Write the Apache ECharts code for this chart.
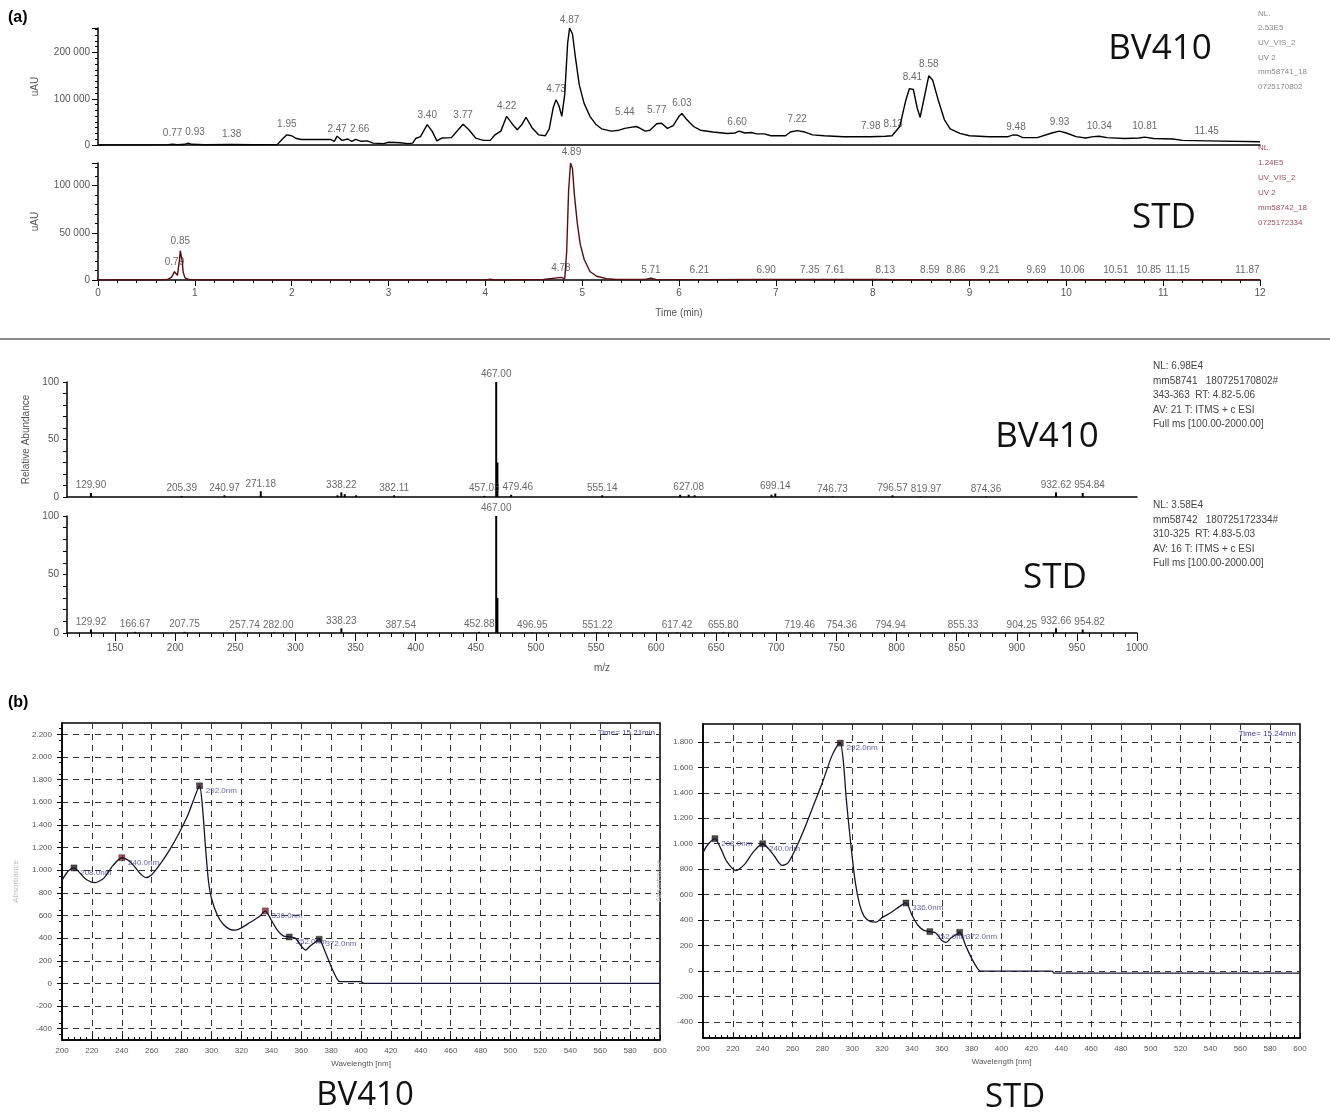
<!DOCTYPE html>
<html>
<head>
<meta charset="utf-8">
<title>BV410 / STD</title>
<script src="https://cdn.jsdelivr.net/npm/echarts@6/dist/echarts.min.js"></script>
<style>
html,body{margin:0;padding:0;background:#fff;}
#main{width:1330px;height:1116px;}
</style>
</head>
<body>
<div id="main"></div>
<script>
// (a) UV chromatograms : [time (min), uAU]
var bvChrom = [[0,0],[0.5,0],[0.72,500],[0.77,1500],[0.82,500],[0.9,1500],[0.93,4000],[0.97,1500],[1.1,500],[1.38,1000],[1.6,500],[1.85,800],
  [1.9,12000],[1.95,22000],[2.0,20000],[2.05,14000],[2.1,12000],[2.4,12000],[2.44,8000],[2.47,19000],[2.52,10000],[2.58,13000],[2.62,8000],[2.66,12000],
  [2.72,8000],[2.78,9000],[2.84,4000],[2.95,3000],[3.0,6000],[3.12,5000],[3.2,3000],[3.25,4000],[3.28,14000],[3.33,18000],[3.40,44000],[3.45,30000],
  [3.5,9000],[3.55,15000],[3.65,16000],[3.72,33000],[3.77,45000],[3.83,33000],[3.9,15000],[3.98,10000],[4.05,10000],[4.1,22000],[4.16,30000],[4.22,62000],
  [4.28,45000],[4.33,33000],[4.38,45000],[4.42,60000],[4.48,38000],[4.55,22000],[4.62,20000],[4.66,35000],[4.7,80000],[4.73,98000],[4.76,85000],[4.79,62000],
  [4.82,110000],[4.85,220000],[4.87,253000],[4.9,240000],[4.93,190000],[4.97,130000],[5.02,90000],[5.08,62000],[5.14,45000],[5.2,35000],[5.3,30000],
  [5.38,32000],[5.44,36000],[5.5,38000],[5.56,40000],[5.6,36000],[5.65,30000],[5.7,32000],[5.77,46000],[5.82,47000],[5.88,36000],[5.94,42000],[6.0,62000],
  [6.03,68000],[6.08,55000],[6.15,40000],[6.22,32000],[6.35,28000],[6.5,25000],[6.58,26000],[6.62,30000],[6.68,26000],[6.75,27000],[6.8,24000],[6.88,24000],
  [6.95,20000],[7.1,20000],[7.15,28000],[7.22,31000],[7.3,28000],[7.38,22000],[7.5,20000],[7.7,18000],[7.98,18000],[8.13,19000],[8.2,20000],[8.28,40000],
  [8.34,95000],[8.38,122000],[8.42,120000],[8.46,80000],[8.49,60000],[8.53,100000],[8.58,150000],[8.62,140000],[8.68,95000],[8.74,55000],[8.8,35000],
  [8.9,25000],[9.0,20000],[9.2,18000],[9.4,18000],[9.45,22000],[9.5,21000],[9.55,16000],[9.7,16000],[9.85,26000],[9.93,30000],[10.0,26000],[10.1,18000],
  [10.2,15000],[10.28,18000],[10.34,19000],[10.42,16000],[10.6,14000],[10.75,15000],[10.81,17000],[10.9,14000],[11.1,13000],[11.2,10000],[11.45,9000],[12,7000]];
var stdChrom = [[0,0],[0.65,0],[0.72,500],[0.76,3000],[0.79,8800],[0.81,7000],[0.82,5000],[0.84,20000],[0.85,31000],[0.87,20000],[0.88,8000],[0.9,2000],
  [0.93,800],[0.97,0],[1.55,0],[4.0,0],[4.05,800],[4.1,0],[4.6,500],[4.78,2800],[4.82,1500],[4.84,30000],[4.86,95000],[4.88,124000],[4.9,118000],
  [4.92,90000],[4.95,60000],[4.98,38000],[5.02,22000],[5.08,9000],[5.15,4000],[5.25,1500],[5.35,500],[5.65,500],[5.71,2000],[5.76,600],[6.21,400],
  [6.9,600],[7.35,500],[8.13,600],[8.2,300],[12,300]];
// peak labels : [time, label height]
var bvChromPeaks = [[0.77,8600],[0.93,11000],[1.38,6500],[1.95,28000],[2.47,17000],[2.66,17000],[3.40,47500],[3.77,47500],[4.22,67000],[4.73,104000],
  [4.87,253000],[5.44,54000],[5.77,58000],[6.03,73500],[6.60,32000],[7.22,39000],[7.98,24000],[8.13,28000],[8.41,130000],[8.58,158000],[9.48,21600],
  [9.93,32000],[10.34,24000],[10.81,24000],[11.45,13000]];
var stdChromPeaks = [[0.79,10600],[0.85,33000],[4.78,4300],[4.89,127000],[5.71,2100],[6.21,2100],[6.90,2100],[7.35,2100],[7.61,2100],[8.13,2100],
  [8.59,2100],[8.86,2100],[9.21,2100],[9.69,2100],[10.06,2100],[10.51,2100],[10.85,2100],[11.15,2100],[11.87,2100]];

// mass spectra : [m/z, relative abundance]
var bvMsSticks = [[129.90,3.5],[205.39,1],[240.97,1.5],[271.18,5],[335.0,1.5],[338.22,4],[341.0,2.5],[350.5,1.5],[382.11,1.5],[457.03,1],[467.00,100],
  [468.0,30],[479.46,2],[555.14,1.5],[620.0,2],[627.08,2],[632.0,1.5],[696.0,2],[699.14,3],[746.73,0.5],[796.57,1.5],[819.97,0.5],[874.36,0.5],
  [932.62,4],[954.84,3.5]];
var bvMsLabelled = [129.90,205.39,240.97,271.18,338.22,382.11,457.03,467.00,479.46,555.14,627.08,699.14,746.73,796.57,819.97,874.36,932.62,954.84];
var stdMsSticks = [[129.92,3],[166.67,1],[207.75,1],[257.74,0.5],[282.00,0.5],[338.23,4],[387.54,0.5],[452.88,1],[467.00,100],[468.0,30],[496.95,0.5],
  [551.22,0.5],[617.42,0.5],[655.80,0.5],[719.46,0.5],[754.36,0.5],[794.94,0.5],[855.33,0.5],[904.25,0.5],[932.66,4],[954.82,3]];
var stdMsLabelled = [129.92,166.67,207.75,257.74,282.00,338.23,387.54,452.88,467.00,496.95,551.22,617.42,655.80,719.46,754.36,794.94,855.33,904.25,932.66,954.82];
var mzTicks = [150,200,250,300,350,400,450,500,550,600,650,700,750,800,850,900,950,1000];

// (b) UV spectra : [wavelength nm, absorbance]
var uvBv = [[200,910],[204,990],[208,1020],[212,975],[216,920],[222,890],[228,930],[234,1040],[240,1110],[244,1090],[248,1040],[252,975],[256,935],
  [260,960],[266,1060],[272,1180],[278,1320],[284,1480],[288,1620],[292,1745],[294,1550],[296,1200],[298,900],[300,750],[304,600],[308,520],[312,480],
  [316,470],[320,490],[326,540],[332,590],[336,640],[340,560],[344,470],[348,420],[352,410],[356,400],[360,330],[363,295],[366,330],[370,370],[372,390],
  [376,280],[380,150],[384,40],[386,15],[400,15],[402,0],[600,0]];
var uvStd = [[200,930],[203,990],[208,1040],[212,960],[216,860],[222,790],[228,840],[234,940],[240,1000],[244,960],[248,900],[253,830],[257,850],
  [262,960],[268,1120],[274,1300],[280,1480],[286,1680],[290,1770],[292,1790],[294,1650],[296,1350],[299,1000],[302,700],[305,520],[308,430],[312,390],
  [316,385],[320,420],[326,460],[332,510],[336,535],[340,440],[344,360],[348,320],[352,310],[356,300],[360,240],[363,225],[366,260],[370,290],[372,305],
  [376,200],[380,100],[384,20],[386,0],[434,0],[435,-15],[600,-15]];
var uvBvMarks = [208,240,292,336,352,372];
var uvStdMarks = [208,240,292,336,352,372];
var uvBvTicks = [-400,-200,0,200,400,600,800,1000,1200,1400,1600,1800,2000,2200];
var uvStdTicks = [-400,-200,0,200,400,600,800,1000,1200,1400,1600,1800];

function spaced(v){ return String(v).replace(/\B(?=(\d{3})+(?!\d))/g, ' '); }
function dotted(v){ var s = String(Math.abs(v)).replace(/\B(?=(\d{3})+(?!\d))/g, '.'); return (v < 0 ? '-' : '') + s; }
function plain(v){ return String(v); }
function pick(arr, keys){ return arr.filter(function(d){ return keys.indexOf(d[0]) >= 0; }); }

var small = {fontFamily:'Liberation Sans', fontSize:10, color:'#555'};
var black = {color:'#000'};

function peakLabels(id, data, xi, yi){
  return {
    id:id, type:'scatter', xAxisIndex:xi, yAxisIndex:yi, data:data, symbolSize:1, clip:false, silent:true,
    itemStyle:{color:'rgba(0,0,0,0)'},
    label:{show:true, position:'top', distance:2, fontFamily:'Liberation Sans', fontSize:10, color:'#444',
      formatter:function(p){ return p.value[0].toFixed(2); }}
  };
}
function uvMarks(src, marks, xi, yi, red){
  return {
    type:'scatter', xAxisIndex:xi, yAxisIndex:yi, data:pick(src, marks), symbol:'rect', symbolSize:6,
    itemStyle:{color:function(p){ return red.indexOf(p.value[0]) >= 0 ? '#a02828' : '#2a1a1a'; }, borderColor:'#111', borderWidth:0.5},
    label:{show:true, position:'right', distance:3, offset:[0,5], fontFamily:'Liberation Sans', fontSize:8, color:'#3a3a96',
      formatter:function(p){ return p.value[0].toFixed(1) + 'nm'; }}
  };
}
function uvX(gi){
  return {gridIndex:gi, type:'value', min:200, max:600, interval:20, name:'Wavelength [nm]', nameLocation:'middle', nameGap:20,
    nameTextStyle:{fontFamily:'Liberation Sans', fontSize:8, color:'#555'},
    axisLine:{onZero:false, lineStyle:{color:'#000', width:1.5}}, axisTick:{inside:true, length:5, lineStyle:black},
    minorTick:{show:true, splitNumber:5, length:3, lineStyle:black},
    axisLabel:{fontFamily:'Liberation Sans', fontSize:8, color:'#555', margin:7},
    splitLine:{show:true, lineStyle:{color:'#333', width:1, type:[6,5]}}};
}

var myChart = echarts.init(document.getElementById('main'));
var option = {
  backgroundColor:'#fff',
  animation:false,
  grid:[
    {left:98, top:28, width:1162, height:117},
    {left:98, top:163, width:1162, height:117},
    {left:67, top:382, width:1070, height:115},
    {left:67, top:516, width:1070, height:117},
    {left:62, top:723, width:598, height:317, show:true, borderColor:'#000', borderWidth:1.5},
    {left:703, top:724, width:597, height:314, show:true, borderColor:'#000', borderWidth:1.5}
  ],
  xAxis:[
    {gridIndex:0, type:'value', min:0, max:12, axisLine:{onZero:false, lineStyle:{color:'#000', width:1.5}}, axisTick:{show:false}, axisLabel:{show:false}, splitLine:{show:false}},
    {gridIndex:1, type:'value', min:0, max:12, interval:1, name:'Time (min)', nameLocation:'middle', nameGap:28, nameTextStyle:small,
      axisLine:{onZero:false, lineStyle:{color:'#000', width:1.5}}, axisTick:{length:6, lineStyle:black}, minorTick:{show:true, splitNumber:5, length:3, lineStyle:black},
      axisLabel:small, splitLine:{show:false}},
    {gridIndex:2, type:'value', min:110, max:1000, axisLine:{onZero:false, lineStyle:{color:'#000', width:1.5}}, axisTick:{show:false}, axisLabel:{show:false}, splitLine:{show:false}},
    {gridIndex:3, type:'value', min:110, max:1000, interval:10, position:'bottom', name:'m/z', nameLocation:'middle', nameGap:30, nameTextStyle:small,
      axisLine:{onZero:false, lineStyle:{color:'#000', width:1.5}}, axisTick:{length:4, lineStyle:black},
      axisLabel:Object.assign({customValues:mzTicks, margin:10, formatter:plain}, small), splitLine:{show:false}},
    {gridIndex:3, type:'value', min:110, max:1000, position:'bottom', axisLine:{show:false, onZero:false},
      axisTick:{length:8, customValues:mzTicks, lineStyle:black}, axisLabel:{show:false}, splitLine:{show:false}},
    uvX(4),
    uvX(5)
  ],
  yAxis:[
    {gridIndex:0, type:'value', min:0, max:253000, interval:100000, name:'uAU', nameLocation:'middle', nameGap:58, nameTextStyle:small,
      axisLine:{show:true, lineStyle:{color:'#000', width:1.5}}, axisTick:{show:true, length:6, lineStyle:black},
      minorTick:{show:true, splitNumber:8, length:3, lineStyle:black},
      axisLabel:Object.assign({formatter:spaced, showMaxLabel:false}, small), splitLine:{show:false}},
    {gridIndex:1, type:'value', min:0, max:124000, interval:50000, name:'uAU', nameLocation:'middle', nameGap:58, nameTextStyle:small,
      axisLine:{show:true, lineStyle:{color:'#000', width:1.5}}, axisTick:{show:true, length:6, lineStyle:black},
      minorTick:{show:true, splitNumber:5, length:3, lineStyle:black},
      axisLabel:Object.assign({formatter:spaced, showMaxLabel:false}, small), splitLine:{show:false}},
    {gridIndex:2, type:'value', min:0, max:100, interval:10, name:'Relative Abundance', nameLocation:'middle', nameGap:36, nameTextStyle:small,
      axisLine:{show:true, lineStyle:{color:'#000', width:1.5}}, axisTick:{show:true, length:4, lineStyle:black},
      axisLabel:Object.assign({customValues:[0,50,100]}, small), splitLine:{show:false}},
    {gridIndex:3, type:'value', min:0, max:100, interval:10,
      axisLine:{show:true, lineStyle:{color:'#000', width:1.5}}, axisTick:{show:true, length:4, lineStyle:black},
      axisLabel:Object.assign({customValues:[0,50,100]}, small), splitLine:{show:false}},
    {gridIndex:4, type:'value', min:-500, max:2300, interval:100, name:'Absorbance', nameLocation:'middle', nameGap:42,
      nameTextStyle:{fontFamily:'Liberation Sans', fontSize:8, color:'#bbb'},
      axisLine:{show:true, onZero:false, lineStyle:{color:'#000', width:1.5}}, axisTick:{show:true, customValues:uvBvTicks, length:5, lineStyle:black},
      minorTick:{show:true, splitNumber:2, length:3, lineStyle:black},
      axisLabel:{customValues:uvBvTicks, formatter:dotted, fontFamily:'Liberation Sans', fontSize:8, color:'#555', margin:10},
      splitLine:{show:true, lineStyle:{color:'#333', width:1, type:[6,5]}}},
    {gridIndex:5, type:'value', min:-525, max:1940, interval:100, name:'Absorbance', nameLocation:'middle', nameGap:40,
      nameTextStyle:{fontFamily:'Liberation Sans', fontSize:8, color:'#bbb'},
      axisLine:{show:true, onZero:false, lineStyle:{color:'#000', width:1.5}}, axisTick:{show:true, customValues:uvStdTicks, length:5, lineStyle:black},
      minorTick:{show:false},
      axisLabel:{customValues:uvStdTicks, formatter:dotted, fontFamily:'Liberation Sans', fontSize:8, color:'#555', margin:10},
      splitLine:{show:true, lineStyle:{color:'#333', width:1, type:[6,5]}}}
  ],
  series:[
    {type:'line', xAxisIndex:0, yAxisIndex:0, data:bvChrom, showSymbol:false, lineStyle:{color:'#000', width:1.4}},
    peakLabels('bvChromLab', bvChromPeaks, 0, 0),
    {type:'line', xAxisIndex:1, yAxisIndex:1, data:stdChrom, showSymbol:false, lineStyle:{color:'#5a0d0d', width:1.4}},
    peakLabels('stdChromLab', stdChromPeaks, 1, 1),
    {type:'bar', xAxisIndex:2, yAxisIndex:2, data:bvMsSticks, barWidth:2, itemStyle:{color:'#000'}},
    peakLabels('bvMsLab', pick(bvMsSticks, bvMsLabelled), 2, 2),
    {type:'bar', xAxisIndex:3, yAxisIndex:3, data:stdMsSticks, barWidth:2, itemStyle:{color:'#000'}},
    peakLabels('stdMsLab', pick(stdMsSticks, stdMsLabelled), 3, 3),
    {type:'line', xAxisIndex:5, yAxisIndex:4, data:uvBv, showSymbol:false, smooth:0.25, lineStyle:{color:'#151535', width:1.3}},
    uvMarks(uvBv, uvBvMarks, 5, 4, [240, 336]),
    {type:'line', xAxisIndex:6, yAxisIndex:5, data:uvStd, showSymbol:false, smooth:0.25, lineStyle:{color:'#151535', width:1.3}},
    uvMarks(uvStd, uvStdMarks, 6, 5, [])
  ],
  graphic:[
    {type:'text', x:8, y:10, style:{text:'(a)', fontFamily:'Liberation Sans', fontSize:16, fontWeight:'bold', fill:'#000'}},
    {type:'text', x:8, y:695, style:{text:'(b)', fontFamily:'Liberation Sans', fontSize:16, fontWeight:'bold', fill:'#000'}},
    {type:'text', x:1160, y:49, style:{text:'BV410', fontFamily:'Open Sans', fontSize:35, fill:'#111', align:'center', verticalAlign:'middle'}},
    {type:'text', x:1164, y:218, style:{text:'STD', fontFamily:'Open Sans', fontSize:35, fill:'#111', align:'center', verticalAlign:'middle'}},
    {type:'text', x:1258, y:6, style:{text:'NL.\n2.53E5\nUV_VIS_2\nUV 2\nmm58741_18\n0725170802', fontFamily:'Liberation Sans', fontSize:8, lineHeight:14.7, fill:'#888'}},
    {type:'text', x:1258, y:140, style:{text:'NL.\n1.24E5\nUV_VIS_2\nUV 2\nmm58742_18\n0725172334', fontFamily:'Liberation Sans', fontSize:8, lineHeight:15, fill:'#a05060'}},
    {type:'line', shape:{x1:0, y1:339, x2:1330, y2:339}, style:{stroke:'#666', lineWidth:1.5}},
    {type:'text', x:1047, y:437, style:{text:'BV410', fontFamily:'Open Sans', fontSize:35, fill:'#111', align:'center', verticalAlign:'middle'}},
    {type:'text', x:1055, y:578, style:{text:'STD', fontFamily:'Open Sans', fontSize:35, fill:'#111', align:'center', verticalAlign:'middle'}},
    {type:'text', x:1153, y:359, style:{text:'NL: 6.98E4\nmm58741   180725170802#\n343-363  RT: 4.82-5.06\nAV: 21 T: ITMS + c ESI\nFull ms [100.00-2000.00]',
      fontFamily:'Liberation Sans', fontSize:10, lineHeight:14.5, fill:'#444'}},
    {type:'text', x:1153, y:498, style:{text:'NL: 3.58E4\nmm58742   180725172334#\n310-325  RT: 4.83-5.03\nAV: 16 T: ITMS + c ESI\nFull ms [100.00-2000.00]',
      fontFamily:'Liberation Sans', fontSize:10, lineHeight:14.5, fill:'#444'}},
    {type:'text', x:655, y:733, style:{text:'Time= 15.21min', fontFamily:'Liberation Sans', fontSize:8, fill:'#3a3a96', align:'right', verticalAlign:'middle'}},
    {type:'text', x:1296, y:734, style:{text:'Time= 15.24min', fontFamily:'Liberation Sans', fontSize:8, fill:'#3a3a96', align:'right', verticalAlign:'middle'}},
    {type:'text', x:365, y:1096, style:{text:'BV410', fontFamily:'Open Sans', fontSize:33, fill:'#111', align:'center', verticalAlign:'middle'}},
    {type:'text', x:1015, y:1098, style:{text:'STD', fontFamily:'Open Sans', fontSize:33, fill:'#111', align:'center', verticalAlign:'middle'}}
  ]
};
myChart.setOption(option);

// push peak labels sideways so that neighbours at the same height do not overlap
function spread(id, data){
  var placed = [];
  return data.map(function(d){
    var p = myChart.convertToPixel({seriesId:id}, d);
    var w = d[0].toFixed(2).length * 5.56 - 2.78 + 3;
    var left = p[0] - w / 2, shift = 0;
    placed.forEach(function(q){
      if (Math.abs(q.y - p[1]) < 12) shift = Math.max(shift, q.right - left);
    });
    placed.push({y:p[1], right:p[0] + shift + w / 2});
    return {value:d, label:{offset:[shift, 0]}};
  });
}
myChart.setOption({series:[
  {id:'bvChromLab', data:spread('bvChromLab', bvChromPeaks)},
  {id:'stdChromLab', data:spread('stdChromLab', stdChromPeaks)},
  {id:'bvMsLab', data:spread('bvMsLab', pick(bvMsSticks, bvMsLabelled))},
  {id:'stdMsLab', data:spread('stdMsLab', pick(stdMsSticks, stdMsLabelled))}
]});
</script>
</body>
</html>
